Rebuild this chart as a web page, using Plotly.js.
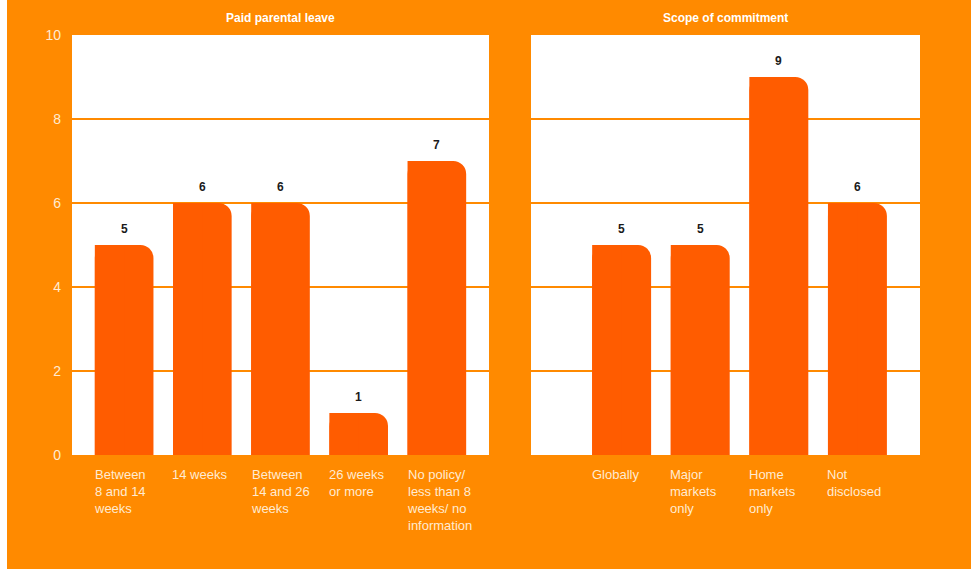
<!DOCTYPE html>
<html>
<head>
<meta charset="utf-8">
<script src="https://cdn.plot.ly/plotly-3.0.1.min.js"></script>
<style>
html,body{margin:0;padding:0;background:#ffffff;overflow:hidden;}
#chart{position:absolute;left:7px;top:0;width:964px;height:569px;}
</style>
</head>
<body>
<div id="chart"></div>
<script>
const leaveTitle = "Paid parental leave";
const leaveLabels = ["Between<br>8 and 14<br>weeks", "14 weeks", "Between<br>14 and 26<br>weeks", "26 weeks<br>or more", "No policy/<br>less than 8<br>weeks/ no<br>information"];
const leaveValues = [5, 6, 6, 1, 7];

const scopeTitle = "Scope of commitment";
const scopeLabels = ["Globally", "Major<br>markets<br>only", "Home<br>markets<br>only", "Not<br>disclosed"];
const scopeValues = [5, 5, 9, 6];

const yTicks = [0, 2, 4, 6, 8, 10];

const ORANGE = "#FF8A00";
const BAR = "#FF5C00";
const PALE = "#FFEBD2";
const FONT = "Liberation Sans, Arial, Helvetica, sans-serif";
const BW = 0.75;

function idx(arr){ return arr.map((_, i) => i); }

function barPair(vals, xa, ya){
  const xs = idx(vals);
  return [
    {type:"bar", x: xs, y: vals, xaxis: xa, yaxis: ya, width: BW,
     marker:{color: BAR, cornerradius: 13, line:{width:0}}, hoverinfo:"skip", showlegend:false},
    {type:"bar", x: xs, y: vals, xaxis: xa, yaxis: ya, width: BW/2, offset: -BW/2,
     marker:{color: BAR, line:{width:0}}, hoverinfo:"skip", showlegend:false}
  ];
}

const data = [].concat(barPair(leaveValues, "x", "y"), barPair(scopeValues, "x2", "y2"));

const annotations = [];
function addLabels(vals, labels, xref, yref){
  vals.forEach((v, i) => {
    annotations.push({x: i, y: v, xref: xref, yref: yref, text: "<b>" + v + "</b>",
      showarrow:false, yanchor:"bottom", yshift: 7,
      font:{family: FONT, size: 12, color: "#1a1a1a"}});
    annotations.push({x: i, y: 0, xref: xref, yref: yref, text: labels[i],
      showarrow:false, xanchor:"left", yanchor:"top", align:"left",
      xshift: -32, yshift: -10,
      font:{family: FONT, size: 13, color: PALE}});
  });
}
addLabels(leaveValues, leaveLabels, "x", "y");
addLabels(scopeValues, scopeLabels, "x2", "y2");
annotations.push({xref:"x domain", yref:"paper", x:0.5, y:1, yshift: 17, yanchor:"middle",
  text:"<b>"+leaveTitle+"</b>", showarrow:false, font:{family:FONT, size:12, color:"#ffffff"}});
annotations.push({xref:"x2 domain", yref:"paper", x:0.5, y:1, yshift: 17, yanchor:"middle",
  text:"<b>"+scopeTitle+"</b>", showarrow:false, font:{family:FONT, size:12, color:"#ffffff"}});

const yBase = {range:[0,10], tickvals: yTicks, showgrid:true, gridcolor: ORANGE, gridwidth:1.5,
  zeroline:false, showline:false, fixedrange:true};

const layout = {
  width: 964, height: 569,
  margin:{l:65, r:51, t:35, b:114},
  paper_bgcolor: ORANGE, plot_bgcolor: "#ffffff",
  barmode: "overlay",
  showlegend: false,
  font:{family: FONT, color: PALE},
  xaxis:{domain:[0, 417/848], range:[-0.667, 4.667], showticklabels:false, showgrid:false,
    zeroline:false, showline:false, fixedrange:true},
  xaxis2:{domain:[459/848, 1], range:[-1.153, 3.796], showticklabels:false, showgrid:false,
    zeroline:false, showline:false, fixedrange:true},
  yaxis: Object.assign({}, yBase, {anchor:"x", showticklabels:true, ticks:"",
    ticklabelstandoff: 10,
    tickfont:{family: FONT, size: 14, color: PALE}}),
  yaxis2: Object.assign({}, yBase, {anchor:"x2", showticklabels:false}),
  annotations: annotations
};

Plotly.newPlot("chart", data, layout, {displayModeBar:false, staticPlot:true});
</script>
</body>
</html>
